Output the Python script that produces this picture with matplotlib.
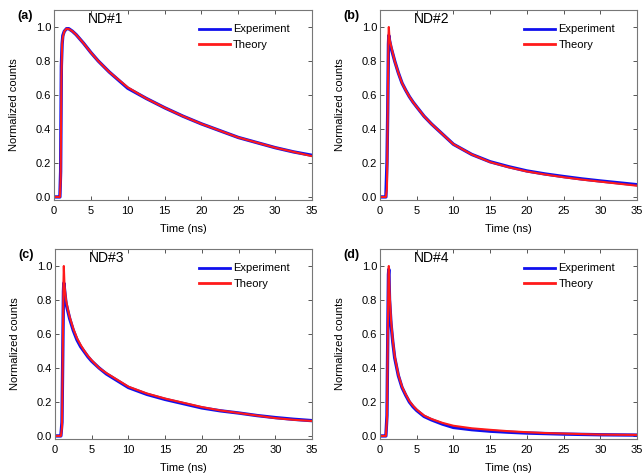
import numpy as np
import matplotlib.pyplot as plt

plt.rcParams['font.family'] = ['Liberation Sans', 'DejaVu Sans']

# time grids (ns)
t_a = [0, 0.8, 0.9, 1.0, 1.1, 1.2, 1.4, 1.7, 2.0, 2.5, 3, 4, 5, 6, 7.5, 10,
       12.5, 15, 17.5, 20, 22.5, 25, 27.5, 30, 32.5, 35]
t_b = [0, 0.8, 0.95, 1.05, 1.15, 1.2, 1.3, 1.5, 1.75, 2.0,
       2.5, 3, 3.5, 4, 4.5, 5, 6, 7, 8.5, 10,
       12.5, 15, 17.5, 20, 22.5, 25, 27.5, 30, 32.5, 35]

# ND#1
exp_a = [0, 0, 0.15, 0.77, 0.9, 0.95, 0.975, 0.99, 0.99, 0.975, 0.955, 0.905,
         0.85, 0.80, 0.735, 0.64, 0.58, 0.525, 0.475, 0.43, 0.39, 0.35, 0.32,
         0.29, 0.265, 0.245]
th_a = [0, 0, 0.1, 0.7, 0.9, 0.94, 0.975, 0.99, 0.988, 0.975, 0.955, 0.905,
        0.85, 0.80, 0.735, 0.645, 0.58, 0.525, 0.475, 0.43, 0.39, 0.35, 0.32,
        0.29, 0.265, 0.24]

# ND#2
exp_b = [0, 0, 0.2, 0.5, 0.9, 0.95, 0.92, 0.88, 0.84, 0.80,
         0.73, 0.67, 0.628, 0.59, 0.558, 0.53, 0.475, 0.43, 0.37, 0.31,
         0.25, 0.207, 0.178, 0.153, 0.135, 0.12, 0.106, 0.094, 0.083, 0.072]
th_b = [0, 0, 0.05, 0.5, 0.95, 1.0, 0.93, 0.89, 0.845, 0.80,
        0.73, 0.67, 0.628, 0.59, 0.558, 0.53, 0.475, 0.43, 0.37, 0.31,
        0.25, 0.205, 0.175, 0.15, 0.132, 0.116, 0.102, 0.09, 0.078, 0.066]

# ND#3
exp_c = [0, 0, 0.08, 0.45, 0.85, 0.9, 0.86, 0.78, 0.735, 0.69,
         0.62, 0.565, 0.525, 0.495, 0.465, 0.44, 0.40, 0.365, 0.325, 0.285,
         0.245, 0.215, 0.19, 0.165, 0.148, 0.135, 0.12, 0.108, 0.098, 0.09]
th_c = [0, 0, 0.05, 0.45, 0.9, 1.0, 0.88, 0.80, 0.745, 0.70,
        0.63, 0.575, 0.535, 0.50, 0.47, 0.445, 0.40, 0.37, 0.33, 0.29,
        0.25, 0.22, 0.195, 0.17, 0.15, 0.135, 0.12, 0.105, 0.095, 0.088]

# ND#4
exp_d = [0, 0, 0.12, 0.55, 0.95, 0.98, 0.8, 0.66, 0.55, 0.46,
         0.355, 0.285, 0.24, 0.20, 0.172, 0.15, 0.115, 0.095, 0.07, 0.05,
         0.037, 0.028, 0.022, 0.017, 0.014, 0.011, 0.009, 0.007, 0.006, 0.005]
th_d = [0, 0, 0.1, 0.55, 0.95, 1.0, 0.85, 0.68, 0.56, 0.47,
        0.36, 0.29, 0.245, 0.205, 0.178, 0.155, 0.12, 0.10, 0.077, 0.06,
        0.045, 0.036, 0.028, 0.022, 0.017, 0.014, 0.011, 0.008, 0.007, 0.006]

panels = [("(a)", "ND#1", t_a, exp_a, th_a),
          ("(b)", "ND#2", t_b, exp_b, th_b),
          ("(c)", "ND#3", t_b, exp_c, th_c),
          ("(d)", "ND#4", t_b, exp_d, th_d)]

# axes boxes in figure pixels (left, top, right, bottom)
W, H = 644, 475
boxes = [(54, 10, 312, 200), (380, 10, 637, 200),
         (55, 249, 312, 439), (380, 249, 637, 439)]

fig = plt.figure(figsize=(6.44, 4.75), dpi=100)

for (tag, name, t, ex, th), (l, tp, r, b) in zip(panels, boxes):
    ax = fig.add_axes([l / W, 1 - b / H, (r - l) / W, (b - tp) / H])
    ax.plot(t, ex, color='#1010ee', lw=2.4, label='Experiment')
    ax.plot(t, th, color='#ff1a1a', lw=1.5, label='Theory')
    ax.set_xlim(0, 35)
    ax.set_ylim(-0.018, 1.1)
    ax.set_xticks(np.arange(0, 36, 5))
    ax.set_yticks(np.arange(0, 1.01, 0.2))
    ax.set_yticklabels([f"{v:.1f}" for v in np.arange(0, 1.01, 0.2)])
    ax.tick_params(direction='in', top=True, right=True, length=3,
                   width=0.7, color='#555555', labelsize=8, pad=2)
    ax.tick_params(axis='x', pad=4.2)
    for s in ax.spines.values():
        s.set_color('#777777')
        s.set_linewidth(0.8)
    ax.set_xlabel('Time (ns)', fontsize=8, labelpad=5.6)
    ax.set_ylabel('Normalized counts', fontsize=8, labelpad=12)
    ax.text(0.13, 0.955, name, transform=ax.transAxes, fontsize=10,
            va='center', ha='left')
    leg = ax.legend(loc='upper left', bbox_to_anchor=(0.53, 0.965),
                    frameon=False, fontsize=8, handlelength=2.8,
                    handletextpad=0.3, labelspacing=0.5, borderpad=0.2)
    for h in leg.get_lines():
        h.set_linewidth(2.0)
    fig.text((l - 37) / W, 1 - (tp + 6) / H, tag, fontsize=9,
             fontweight='bold', va='center', ha='left')

fig.savefig('out.png', dpi=100)
